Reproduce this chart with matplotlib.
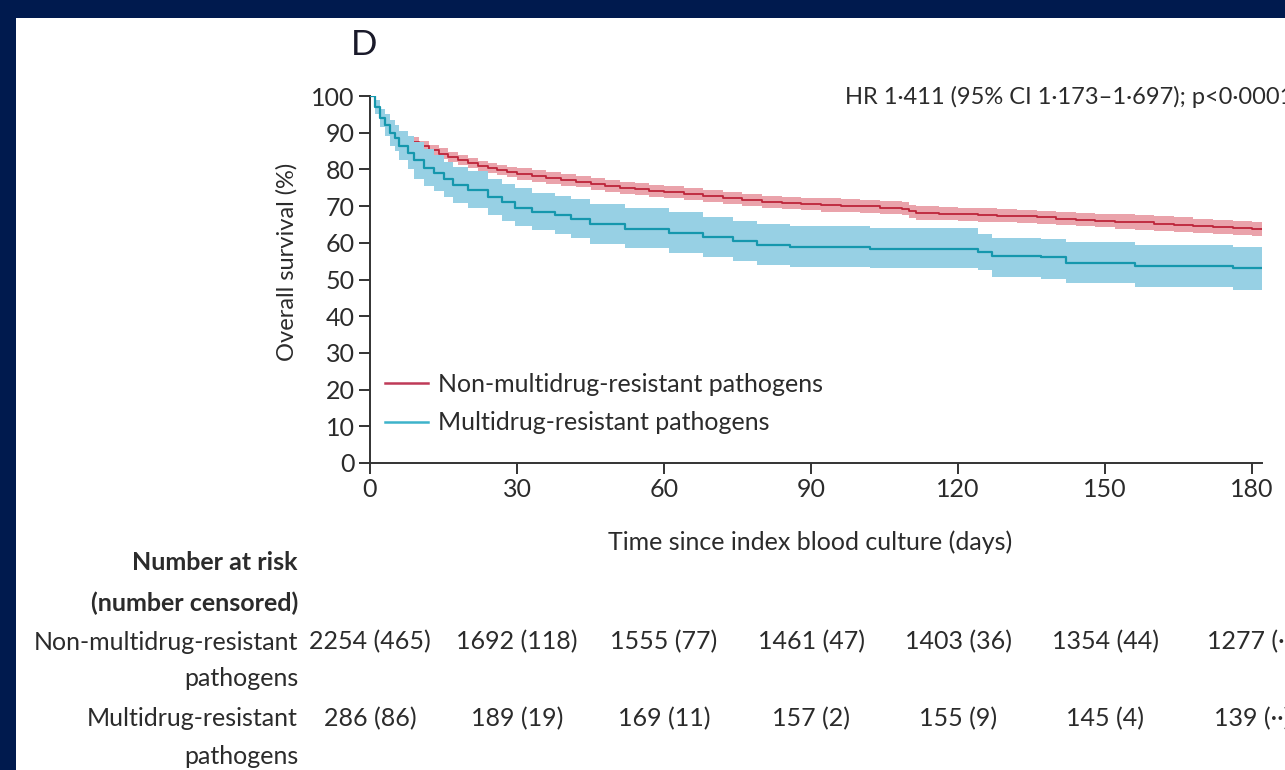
import matplotlib
matplotlib.use("Agg")
import matplotlib.pyplot as plt
from matplotlib.patches import Rectangle
from matplotlib.lines import Line2D
from matplotlib.transforms import blended_transform_factory

plt.rcParams['font.family'] = ['Lato', 'DejaVu Sans']

# Kaplan-Meier estimates (days, %), with 95% confidence band
mdr_days = [0, 1, 2, 3, 4, 5, 6, 7.7, 9, 11, 13, 15, 17, 20, 24, 27, 29.5, 33, 37.7, 41,
            44.8, 52, 61, 68, 74, 79, 85.6, 102, 124, 127, 137, 142, 156, 176, 182]
mdr_surv = [100, 97, 94, 92, 90, 88.5, 86.5, 84.5, 82.5, 80.5, 79, 77.5, 75.7, 74.5, 72.5, 71,
            69.5, 68.5, 67.6, 66.5, 65.0, 63.8, 62.7, 61.6, 60.5, 59.4, 58.9, 58.3, 57.5, 56.4,
            56.1, 54.5, 53.7, 53.1, 53.1]
mdr_upper = [100, 99, 96.5, 95, 93.5, 92, 90.5, 89, 87.5, 85.5, 84, 82, 80.6, 79.5, 77.5, 76,
             75, 73.5, 72.7, 72, 70.5, 69.5, 68.4, 67, 66, 65, 64.5, 64, 62.5, 61.2, 61, 60.2,
             59.4, 58.9, 58.9]
mdr_lower = [100, 95, 91.5, 89, 86.5, 85, 82.5, 80, 77.5, 75.5, 74, 72.5, 70.8, 69.5, 67.5, 66,
             64.5, 63.5, 62.5, 61.3, 59.8, 58.5, 57.2, 56, 55, 54, 53.4, 53, 52.6, 50.7, 50.2,
             49, 48, 47.1, 47.1]

non_days = [7.7, 10, 12, 14, 16, 18, 20, 22, 24, 26, 28, 30, 33, 36, 39, 42, 45, 48, 51, 54,
            57, 60, 64, 68, 72, 76, 80, 84, 88, 92, 96, 100, 104, 108.6, 110, 111.5, 116, 120,
            124, 128, 132, 136, 140, 144, 148, 152, 156, 160, 164, 168, 172, 176, 180, 182]
non_surv = [87.5, 86.3, 85.2, 84.3, 83.3, 82.5, 81.8, 81.0, 80.4, 79.8, 79.3, 78.8, 78.2, 77.6,
            77.2, 76.7, 76.1, 75.5, 75.0, 74.6, 74.2, 73.8, 73.3, 72.8, 72.2, 71.7, 71.2, 70.9,
            70.6, 70.3, 70.1, 69.9, 69.6, 69.3, 68.6, 68.1, 67.9, 67.8, 67.6, 67.4, 67.2, 66.9,
            66.6, 66.3, 66.0, 65.8, 65.6, 65.2, 64.9, 64.6, 64.3, 64.0, 63.8, 63.8]
non_upper = [88.9, 87.7, 86.6, 85.7, 84.7, 83.9, 83.2, 82.4, 81.8, 81.2, 80.7, 80.4, 79.8, 79.2,
             78.8, 78.3, 77.7, 77.1, 76.6, 76.2, 75.8, 75.4, 74.9, 74.4, 73.8, 73.3, 72.8, 72.5,
             72.2, 72.1, 71.9, 71.7, 71.4, 71.1, 70.4, 69.9, 69.7, 69.6, 69.4, 69.2, 69.0, 68.7,
             68.4, 68.1, 67.8, 67.8, 67.6, 67.2, 66.9, 66.6, 66.3, 66.0, 65.8, 65.8]
non_lower = [86.1, 84.9, 83.8, 82.9, 81.9, 81.1, 80.4, 79.6, 79.0, 78.4, 77.9, 77.2, 76.6, 76.0,
             75.6, 75.1, 74.5, 73.9, 73.4, 73.0, 72.6, 72.2, 71.7, 71.2, 70.6, 70.1, 69.6, 69.3,
             69.0, 68.5, 68.3, 68.1, 67.8, 67.5, 66.8, 66.3, 66.1, 66.0, 65.8, 65.6, 65.4, 65.1,
             64.8, 64.5, 64.2, 63.8, 63.6, 63.2, 62.9, 62.6, 62.3, 62.0, 61.8, 61.8]

x_ticks = [0, 30, 60, 90, 120, 150, 180]
y_ticks = [0, 10, 20, 30, 40, 50, 60, 70, 80, 90, 100]

risk_non = ["2254 (465)", "1692 (118)", "1555 (77)", "1461 (47)", "1403 (36)", "1354 (44)", "1277 (··)"]
risk_mdr = ["286 (86)", "189 (19)", "169 (11)", "157 (2)", "155 (9)", "145 (4)", "139 (··)"]

label_non = "Non-multidrug-resistant pathogens"
label_mdr = "Multidrug-resistant pathogens"
hr_text = "HR 1·411 (95% CI 1·173–1·697); p<0·0001"

NAVY = "#001a4e"
RED_LINE, RED_BAND = "#bd2439", "#eaa3ab"
BLUE_LINE, BLUE_BAND = "#1597ad", "#97d0e4"
INK = "#2b2b2b"
FS = 18

W, H = 1285, 770
fig = plt.figure(figsize=(W / 100, H / 100), dpi=100, facecolor=NAVY)
fig.patches.append(Rectangle((16 / W, 0), 1, 1 - 18 / H, transform=fig.transFigure,
                             facecolor="white", edgecolor="none", zorder=-5))


def fx(px):
    return px / W


def fy(py):
    return 1 - py / H


ax = fig.add_axes([fx(370), fy(463), fx(1262) - fx(370), fy(96) - fy(463)])
ax.set_facecolor("none")
ax.set_zorder(2)

ax.fill_between(non_days, non_lower, non_upper, step="post", color=RED_BAND, lw=0, zorder=2)
ax.step(non_days, non_surv, where="post", color=RED_LINE, lw=1.3, zorder=3)
ax.fill_between(mdr_days, mdr_lower, mdr_upper, step="post", color=BLUE_BAND, lw=0, zorder=4)
ax.step(mdr_days, mdr_surv, where="post", color=BLUE_LINE, lw=1.6, zorder=5)

ax.set_xlim(0, 182)
ax.set_ylim(0, 100)
ax.set_xticks(x_ticks)
ax.set_yticks(y_ticks)
for s in ("top", "right"):
    ax.spines[s].set_visible(False)
for s in ("left", "bottom"):
    ax.spines[s].set_color("#333333")
    ax.spines[s].set_linewidth(1.4)
ax.tick_params(direction="out", length=8, width=1.4, color="#333333",
               labelsize=FS, labelcolor=INK, pad=3)

ax.set_ylabel("Overall survival (%)", fontsize=FS - 1, color=INK)
ax.yaxis.set_label_coords(-0.081, 0.548)
ax.set_xlabel("Time since index blood culture (days)", fontsize=FS, color=INK)
ax.xaxis.set_label_coords(0.493, -0.185)

handles = [Line2D([], [], color="#bf3a58", lw=1.8), Line2D([], [], color="#3db3ca", lw=1.8)]
ax.legend(handles, [label_non, label_mdr], loc="center left", bbox_to_anchor=(0.017, 0.162),
          frameon=False, fontsize=FS, handlelength=1.7, handletextpad=0.4,
          labelspacing=0.62, borderpad=0, borderaxespad=0, labelcolor=INK)

fig.text(fx(351), fy(45), "D", fontsize=25, color="#1a1a2a", va="center", ha="left")
fig.text(fx(845), fy(97), hr_text, fontsize=FS - 1, color=INK, va="center", ha="left")

# Number-at-risk table aligned to the time axis
tr = blended_transform_factory(ax.transData, fig.transFigure)
fig.text(fx(298), fy(563), "Number at risk", fontsize=FS, fontweight="bold",
         color=INK, ha="right", va="center")
fig.text(fx(298), fy(603), "(number censored)", fontsize=FS, fontweight="bold",
         color=INK, ha="right", va="center")
fig.text(fx(298), fy(642), "Non-multidrug-resistant", fontsize=FS, color=INK, ha="right", va="center")
fig.text(fx(298), fy(678), "pathogens", fontsize=FS, color=INK, ha="right", va="center")
fig.text(fx(298), fy(719), "Multidrug-resistant", fontsize=FS, color=INK, ha="right", va="center")
fig.text(fx(298), fy(756), "pathogens", fontsize=FS, color=INK, ha="right", va="center")
for d, a, b in zip(x_ticks, risk_non, risk_mdr):
    ax.text(d, fy(642), a, transform=tr, fontsize=FS, color=INK, ha="center", va="center",
            clip_on=False)
    ax.text(d, fy(719), b, transform=tr, fontsize=FS, color=INK, ha="center", va="center",
            clip_on=False)

fig.savefig("out.png", dpi=100, facecolor=NAVY)
